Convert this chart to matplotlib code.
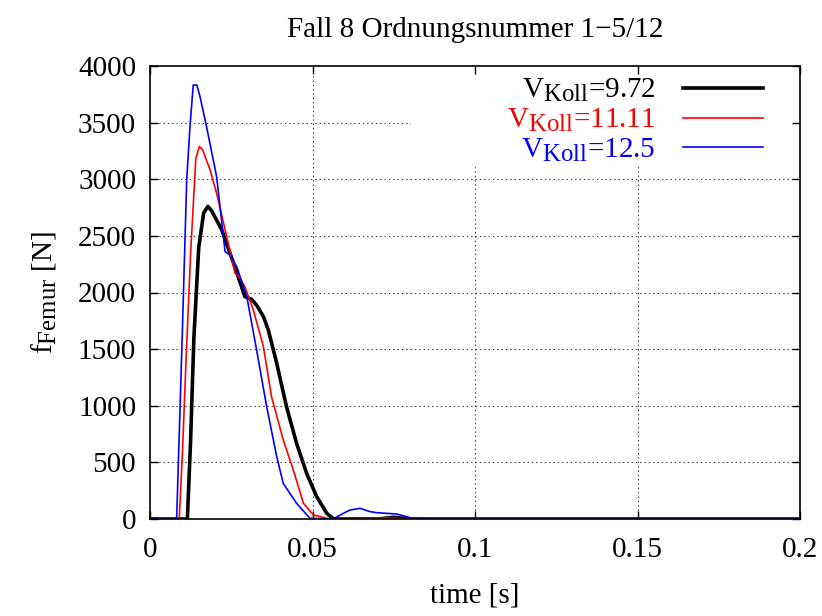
import matplotlib
matplotlib.use("Agg")
import matplotlib.pyplot as plt
from matplotlib.patches import Rectangle
import matplotlib._mathtext as _mt

_mt.SHRINK_FACTOR = 0.85

plt.rcParams['font.family'] = ['Liberation Serif', 'DejaVu Serif']
plt.rcParams['mathtext.fontset'] = 'custom'
plt.rcParams['mathtext.rm'] = 'Liberation Serif'
plt.rcParams['mathtext.it'] = 'Liberation Serif:italic'

title = "Fall 8 Ordnungsnummer 1\u22125/12"
xlabel = "time [s]"
ylabel = r"f$_{\mathrm{Femur}}$ [N]"
labels = [r"V$_{\mathrm{Koll}}$=9.72", r"V$_{\mathrm{Koll}}$=11.11", r"V$_{\mathrm{Koll}}$=12.5"]
colors = ["black", "red", "blue"]

t_black = [0, 0.0115, 0.0125, 0.0135, 0.015, 0.0165, 0.0178, 0.019, 0.0221, 0.0246, 0.027, 0.0292,
           0.0313, 0.033, 0.0349, 0.0364, 0.039, 0.042, 0.0451, 0.0482, 0.0513, 0.0544, 0.0565,
           0.070, 0.075, 0.080, 0.2]
v_black = [0, 0, 700, 1600, 2400, 2700, 2760, 2720, 2552, 2349, 2150, 1963,
           1940, 1880, 1787, 1669, 1374, 992, 668, 403, 197, 50, 0,
           0, 15, 0, 0]

t_red = [0, 0.009, 0.0100, 0.0111, 0.0125, 0.0141, 0.0152, 0.0162, 0.0185, 0.0205, 0.0236, 0.0262,
         0.0272, 0.0292, 0.0318, 0.0349, 0.0374, 0.041, 0.0441, 0.0472, 0.0503, 0.0554,
         0.068, 0.073, 0.078, 0.2]
v_red = [0, 0, 600, 1404, 2350, 3185, 3290, 3260, 3082, 2876, 2493, 2169,
         2146, 2051, 1845, 1521, 1080, 698, 433, 139, 35, 0,
         0, 12, 0, 0]

t_blue = [0, 0.0082, 0.0098, 0.0113, 0.0123, 0.0133, 0.0144, 0.0154, 0.0174, 0.0205, 0.0231, 0.0246,
          0.0267, 0.0298, 0.0328, 0.0359, 0.039, 0.041, 0.0451, 0.0492, 0.0563, 0.0595, 0.0615,
          0.0646, 0.0677, 0.0697, 0.0759, 0.080, 0.084, 0.2]
v_blue = [0, 0, 1500, 3000, 3464, 3832, 3832, 3729, 3464, 3023, 2361, 2331,
          2228, 1963, 1492, 992, 550, 314, 139, 6, 0, 50, 79,
          94, 65, 56, 44, 12, 0, 0]

xticks = [0, 0.05, 0.1, 0.15, 0.2]
xticklabels = ["0", "0.05", "0.1", "0.15", "0.2"]
yticks = [0, 500, 1000, 1500, 2000, 2500, 3000, 3500, 4000]

FS = 21

fig = plt.figure(figsize=(8.22, 6.16), dpi=100)
rect = [150/822, 1 - 519/616, 650/822, 453/616]

# background axes: grid + legend backing box
axbg = fig.add_axes(rect, zorder=0)
axbg.set_xlim(0, 0.2)
axbg.set_ylim(0, 4000)
axbg.set_xticks(xticks[1:-1])
axbg.set_yticks(yticks[1:-1])
axbg.grid(True, color='0.25', linestyle=(0, (1.3, 2.6)), linewidth=0.8)
axbg.tick_params(length=0, labelbottom=False, labelleft=False)
for s in axbg.spines.values():
    s.set_visible(False)
axbg.add_patch(Rectangle((261/650, 1 - 101/453), 389/650, 101/453, transform=axbg.transAxes,
                         facecolor='white', edgecolor='none', zorder=3))

ax = fig.add_axes(rect, zorder=1)
ax.patch.set_alpha(0)
lws = [2.6, 1.2, 1.2]
for t, v, c, lw, lab in zip([t_black, t_red, t_blue], [v_black, v_red, v_blue], colors, lws, labels):
    ax.plot(t, v, color=c, lw=lw, label=lab, solid_joinstyle='round')

ax.set_xlim(0, 0.2)
ax.set_ylim(0, 4000)
ax.set_xticks(xticks)
ax.set_xticklabels(xticklabels)
ax.set_yticks(yticks)
ax.tick_params(direction='in', length=6, width=1, top=True, right=True, labelsize=FS, pad=10)
ax.tick_params(axis='x', pad=13)
for s in ax.spines.values():
    s.set_linewidth(1.2)

ax.set_title(title, fontsize=FS, pad=21)
ax.set_xlabel(xlabel, fontsize=FS, labelpad=14)
ax.set_ylabel(ylabel, fontsize=FS, labelpad=14)

leg = ax.legend(loc='upper right', bbox_to_anchor=(1 - 37/650, 1 - 11/453),
                markerfirst=False, frameon=False, fontsize=FS,
                handlelength=2.74, handletextpad=0.96, labelspacing=0.09,
                borderpad=0.0, borderaxespad=0.0, labelcolor=colors)

fig.savefig("out.png", dpi=100)
